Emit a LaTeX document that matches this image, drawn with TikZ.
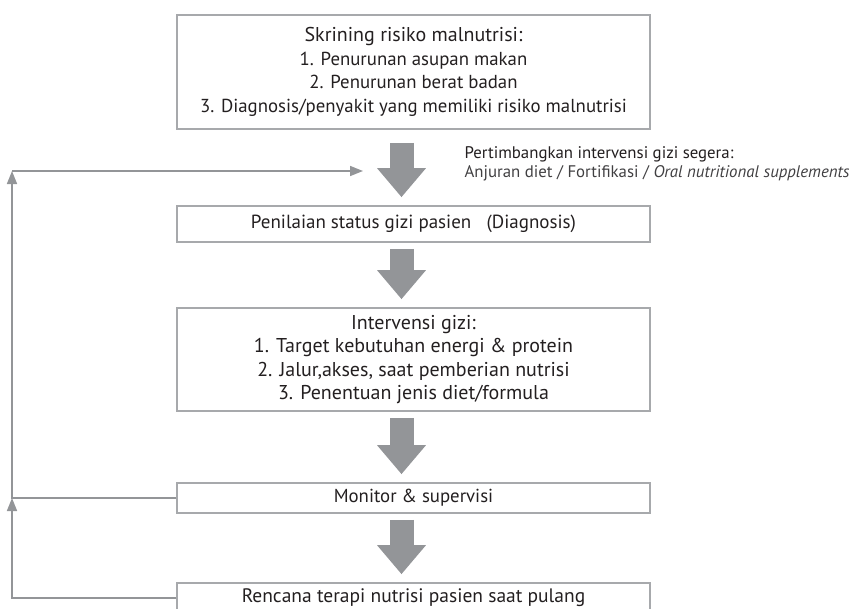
\documentclass[tikz,border=0pt]{standalone}
\usepackage{fontspec}
\setmainfont{PT Sans}
\usetikzlibrary{arrows.meta}
\definecolor{boxgray}{HTML}{A7A9AC}
\definecolor{flowgray}{HTML}{939598}
\definecolor{ink}{HTML}{231F20}
\definecolor{softink}{HTML}{414042}

\begin{document}
\begin{tikzpicture}[x=1pt,y=-1pt,
  stepbox/.style={draw=boxgray, line width=1.6pt, minimum width=473pt, inner sep=0pt, align=center, text=ink},
  bigflow/.style={draw=flowgray, line width=24pt, shorten <=6pt, shorten >=8pt, -{Triangle[length=29pt,width=47pt]}},
  backflow/.style={draw=flowgray, line width=1.6pt, -{Triangle[length=13pt,width=10pt]}}]
  \useasboundingbox (0,0) rectangle (849,608);
  \node (skrining) at (413.5,72) [stepbox, minimum height=114pt, font=\fontsize{18.8}{23.5}\selectfont]
    {{\fontsize{20}{23.5}\selectfont Skrining risiko malnutrisi:}\\1. Penurunan asupan makan\\2. Penurunan berat badan\\3. Diagnosis/penyakit yang memiliki risiko malnutrisi};
  \node (penilaian) at (413.5,224) [stepbox, minimum height=36pt, font=\fontsize{19}{22}\selectfont]
    {Penilaian status gizi pasien \ \ (Diagnosis)};
  \node (intervensi) at (413.5,359.5) [stepbox, minimum height=103pt, font=\fontsize{20}{23.5}\selectfont]
    {Intervensi gizi:\\1. Target kebutuhan energi \& protein\\2. Jalur,akses, saat pemberian nutrisi\\3. Penentuan jenis diet/formula};
  \node (monitor) at (413.5,498) [stepbox, minimum height=30pt, font=\fontsize{18.8}{22}\selectfont]
    {Monitor \& supervisi};
  \node (rencana) at (413.5,598) [stepbox, minimum height=30pt, font=\fontsize{19.5}{22}\selectfont]
    {Rencana terapi nutrisi pasien saat pulang};
  \node (segera) at (461,164) [anchor=west, align=left, text=ink, font=\fontsize{16.8}{19.5}\selectfont]
    {Pertimbangkan intervensi gizi segera:\\{\color{softink}Anjuran diet / Fortifikasi / \textit{Oral nutritional supplements}}};
  \draw[bigflow, shorten <=13pt] ([xshift=-12pt]skrining.south) -- ([xshift=-12pt]penilaian.north);
  \draw[bigflow] ([xshift=-12pt]penilaian.south) -- ([xshift=-12pt]intervensi.north);
  \draw[bigflow] ([xshift=-12pt]intervensi.south) -- ([xshift=-12pt]monitor.north);
  \draw[bigflow] ([xshift=-12pt]monitor.south) -- ([xshift=-12pt]rencana.north);
  \coordinate (corner) at (12,171);
  \coordinate (target) at (363,171);
  \draw[backflow] (rencana.west) -- (rencana.west -| corner) -- (monitor.west -| corner);
  \draw[backflow] (monitor.west) -- (monitor.west -| corner) -- (corner);
  \draw[backflow] (corner) -- (target);
\end{tikzpicture}
\end{document}
